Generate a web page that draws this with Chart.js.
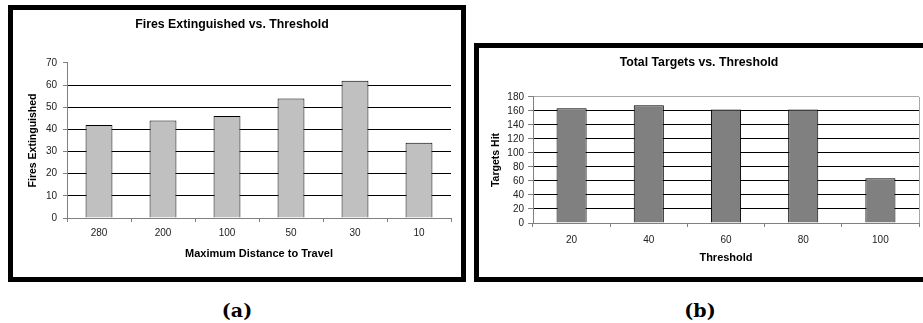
<!DOCTYPE html>
<html>
<head>
<meta charset="utf-8">
<script src="https://cdn.jsdelivr.net/npm/chart.js@4/dist/chart.umd.min.js"></script>
<style>
  html, body { margin: 0; padding: 0; background: #fff; }
  body { width: 923px; height: 323px; position: relative; overflow: hidden; }
  .frame { position: absolute; border: 5px solid #000; box-sizing: border-box; background: #fff; }
  .frame canvas { display: block; }
  .caption { position: absolute; width: 100px; text-align: center; font-family: "DejaVu Serif", serif;
             font-weight: bold; font-size: 19px; line-height: 20px; color: #000; }
</style>
</head>
<body>
<div class="frame" style="left:8px; top:5px; width:458px; height:277px;">
  <canvas id="fires" width="448" height="267" style="width:448px;height:267px"></canvas>
</div>
<div class="frame" style="left:474px; top:43px; width:458px; height:239px;">
  <canvas id="targets" width="448" height="229" style="width:448px;height:229px"></canvas>
</div>
<div class="caption" style="left:187px; top:300px;">(a)</div>
<div class="caption" style="left:650px; top:300px;">(b)</div>

<script>
// Panel (a): fires extinguished for each maximum travel distance
const distanceLabels = ['280', '200', '100', '50', '30', '10'];
const firesExtinguished = [42, 44, 46, 54, 62, 34];
const firesAxisMax = 70;
const firesAxisStep = 10;

// Panel (b): total targets hit for each threshold
const thresholdLabels = ['20', '40', '60', '80', '100'];
const targetsHit = [164, 168, 162, 162, 64];
const targetsAxisMax = 180;
const targetsAxisStep = 20;

Chart.defaults.font.family = '"Liberation Sans", Arial, sans-serif';
Chart.defaults.color = '#222';

const AXIS_GREY = '#808080';
const CLEAR = 'rgba(0,0,0,0)';

function barPanel(canvasId, cfg) {
  return new Chart(document.getElementById(canvasId), {
    type: 'bar',
    data: {
      labels: cfg.labels,
      datasets: [{
        data: cfg.values,
        backgroundColor: cfg.fill,
        borderColor: '#000',
        borderWidth: 1,
        barPercentage: cfg.barPct,
        categoryPercentage: 1
      }]
    },
    options: {
      responsive: false,
      animation: false,
      devicePixelRatio: 1,
      layout: { padding: { left: 0, right: cfg.rightPad, top: 0, bottom: 0 } },
      plugins: {
        legend: { display: false },
        tooltip: { enabled: false },
        title: {
          display: true,
          text: cfg.title,
          color: '#000',
          font: { size: 12.3, weight: 'bold' },
          padding: { top: cfg.titleTop, bottom: cfg.titleBottom }
        }
      },
      scales: {
        x: {
          grid: {
            offset: true,
            drawOnChartArea: cfg.rightFrame,
            drawTicks: true,
            tickLength: 4,
            tickColor: AXIS_GREY,
            // only the closing line on the right of the plot is visible
            color: c => (cfg.rightFrame && c.type === 'scale') ? '#a8a8a8' : CLEAR
          },
          border: { color: AXIS_GREY },
          ticks: { color: '#222', font: { size: 10 }, padding: cfg.xTickPad, maxRotation: 0, autoSkip: false },
          title: {
            display: true,
            text: cfg.xTitle,
            color: '#000',
            font: { size: 11, weight: 'bold' },
            padding: { top: 0, bottom: cfg.xTitleBottom }
          },
          afterFit: s => { s.height = cfg.xHeight; }
        },
        y: {
          min: 0,
          max: cfg.yMax,
          ticks: { stepSize: cfg.yStep, color: '#222', font: { size: 10 }, padding: cfg.yTickPad, autoSkip: false },
          grid: {
            tickLength: cfg.yTickLen,
            tickColor: AXIS_GREY,
            color: c => {
              if (!c.tick) return CLEAR;
              if (c.tick.value === 0) return CLEAR;
              if (c.tick.value === cfg.yMax) return cfg.topFrame ? '#a8a8a8' : CLEAR;
              return '#000';
            }
          },
          border: { color: AXIS_GREY },
          title: {
            display: true,
            text: cfg.yTitle,
            color: '#000',
            font: { size: 10.5, weight: 'bold' },
            padding: { top: cfg.yTitleTop, bottom: 0 }
          },
          afterFit: s => { s.width = 54; }
        }
      }
    }
  });
}

barPanel('fires', {
  labels: distanceLabels,
  values: firesExtinguished,
  fill: '#c0c0c0',
  barPct: 0.42,
  title: 'Fires Extinguished vs. Threshold',
  titleTop: 6.9,
  titleBottom: 31.3,
  xTitle: 'Maximum Distance to Travel',
  yTitle: 'Fires Extinguished',
  yMax: firesAxisMax,
  yStep: firesAxisStep,
  rightPad: 10,
  xHeight: 59,
  xTickPad: 5,
  xTitleBottom: 16.4,
  yTickPad: 6,
  yTickLen: 4,
  yTitleTop: 14,
  rightFrame: false,
  topFrame: false
});

barPanel('targets', {
  labels: thresholdLabels,
  values: targetsHit,
  fill: '#808080',
  barPct: 0.39,
  title: 'Total Targets vs. Threshold',
  titleTop: 7.1,
  titleBottom: 27.1,
  xTitle: 'Threshold',
  yTitle: 'Targets Hit',
  yMax: targetsAxisMax,
  yStep: targetsAxisStep,
  rightPad: 8,
  xHeight: 54,
  xTickPad: 7,
  xTitleBottom: 12.4,
  yTickPad: 4,
  yTickLen: 5,
  yTitleTop: 11.2,
  rightFrame: true,
  topFrame: true
});
</script>
</body>
</html>
